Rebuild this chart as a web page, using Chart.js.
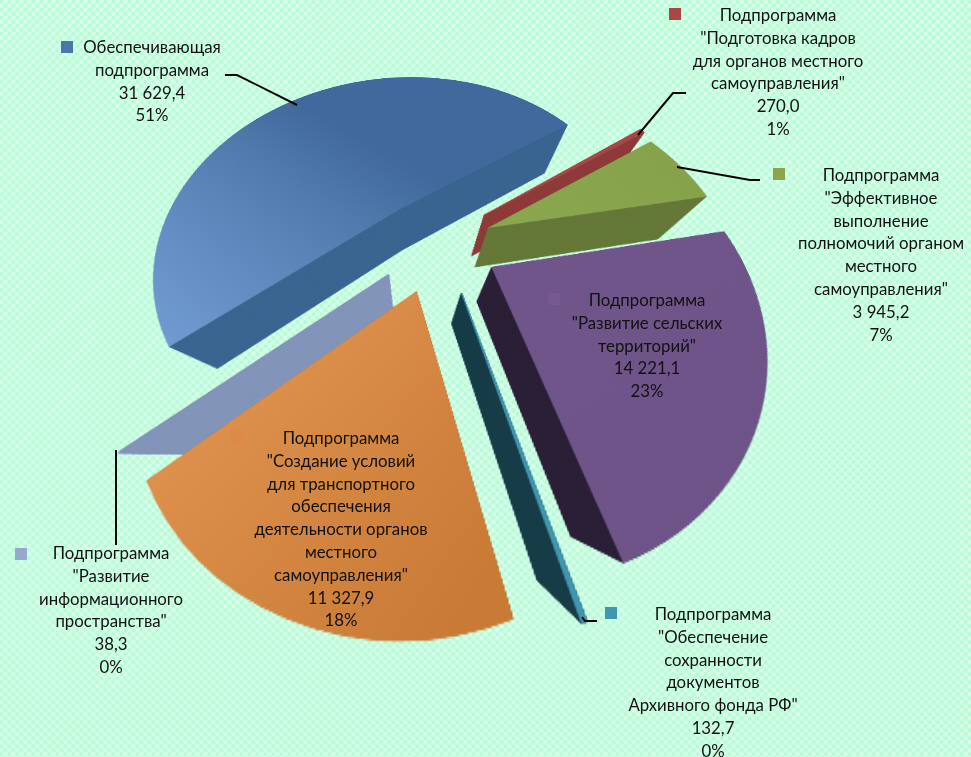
<!DOCTYPE html>
<html>
<head>
<meta charset="utf-8">
<script src="https://cdn.jsdelivr.net/npm/chart.js@4"></script>
<style>
html,body{margin:0;padding:0;width:971px;height:757px;overflow:hidden}
body{position:relative;background-color:#a4fccd;
background-image:repeating-linear-gradient(45deg,rgba(255,255,255,.45) 0,rgba(255,255,255,0) 2.83px,rgba(255,255,255,.45) 5.66px),repeating-linear-gradient(-45deg,rgba(255,255,255,.45) 0,rgba(255,255,255,0) 2.83px,rgba(255,255,255,.45) 5.66px)}
#pie{position:absolute;left:-52px;top:-238px;transform-origin:500px 500px;transform:perspective(430px) rotateX(35deg)}
#lines{position:absolute;left:0;top:0}
.lab{position:absolute;transform:translate(-50%,-50%);white-space:nowrap;font:16.8px Lato,"Noto Sans",sans-serif;color:#111;line-height:23px}
.mark{position:absolute;width:12px;height:12px}
</style>
</head>
<body>
<canvas id="pie" width="1000" height="1000"></canvas>
<svg id="lines" width="971" height="757"></svg>
<script>
/* DATA */
const categories = [
  ['Обеспечивающая','подпрограмма'],
  ['Подпрограмма','"Подготовка кадров','для органов местного','самоуправления"'],
  ['Подпрограмма','"Эффективное','выполнение','полномочий органом','местного','самоуправления"'],
  ['Подпрограмма','"Развитие сельских','территорий"'],
  ['Подпрограмма','"Обеспечение','сохранности','документов','Архивного фонда РФ"'],
  ['Подпрограмма','"Создание условий','для транспортного','обеспечения','деятельности органов','местного','самоуправления"'],
  ['Подпрограмма','"Развитие','информационного','пространства"']
];
const values = [31629.4, 270.0, 3945.2, 14221.1, 132.7, 11327.9, 38.3];
const valueLabels = ['31 629,4','270,0','3 945,2','14 221,1','132,7','11 327,9','38,3'];
const percentLabels = ['51%','1%','7%','23%','0%','18%','0%'];

/* STYLE */
const topColors = [['#739ed4','#41699b'],['#a84744','#a84744'],['#8aa64e','#84a049'],['#6f5589','#6b5185'],['#4097b0','#4097b0'],['#eca05c','#c97b36'],['#8a9cc0','#8093b8']];
const wallColors = ['#3b6591','#8e3b3a','#66793a','#2c2138','#173d48','#b06a2c','#8395b9'];
const markColors = ['#4a76ab','#a84744','#8da34c','#75598f','#4097b0','#dd8a47','#98a7cc'];
const gradLines = [[240,640,440,380],[0,0,1,1],[500,400,800,300],[600,500,900,900],[0,0,1,1],[150,600,450,850],[200,600,500,400]];
// slice shift on the pie plane, px
const explode = [[-52,-71],[39,-62],[42,-44],[43,6],[13,36],[-30,34],[-58,15]];
const edgeWidth = [0,1,0,0,1,0,1.5];
const drawOrder = [0,6,1,2,3,4,5];
const nadir = [471,680];
const wallScale = 0.775, wallSteps = 200;

/* label layout: centre x, first line y, marker x,y */
const labelPos = [[152,46,61,41],[778,14,669,8],[881,174,773,168],[647,299,548,293],[713,613,605,607],[341,437,231,431],[111,552,15,548]];
const leaders = ['225,75 237,75 297,105','686,93 673,93 638,135','760,180 750,180 677,167','116,450 116,545','582,617 585,621 597,621'];

const ctx = document.getElementById('pie').getContext('2d');
const fills = topColors.map((c,i)=>{
  const g = ctx.createLinearGradient(...gradLines[i]);
  g.addColorStop(0,c[0]); g.addColorStop(1,c[1]);
  return g;
});

const extrude = {
  id:'extrude',
  beforeDatasetDraw(chart,args){
    const c = chart.ctx, arcs = args.meta.data;
    drawOrder.forEach(i=>{
      const arc = arcs[i], o = arc.options, face = o.backgroundColor;
      o.backgroundColor = wallColors[i];
      o.borderColor = wallColors[i];
      o.borderWidth = edgeWidth[i]; // thin slices fade out near the apex without this
      for(let s=0;s<wallSteps;s++){
        const k = wallScale+(1-wallScale)*s/wallSteps;
        c.save();
        c.translate(nadir[0],nadir[1]); c.scale(k,k); c.translate(-nadir[0],-nadir[1]);
        c.translate(explode[i][0],explode[i][1]);
        arc.draw(c);
        c.restore();
      }
      o.backgroundColor = face;
      o.borderColor = topColors[i][1];
      c.save();
      c.translate(explode[i][0],explode[i][1]);
      arc.draw(c);
      c.restore();
    });
    return false;
  }
};

new Chart(ctx,{
  type:'pie',
  data:{labels:categories.map(c=>c[0]),datasets:[{data:values,backgroundColor:fills,borderWidth:0}]},
  options:{
    responsive:false,animation:false,rotation:230,radius:252,
    layout:{padding:0},
    plugins:{legend:{display:false},tooltip:{enabled:false}}
  },
  plugins:[extrude]
});

/* labels */
categories.forEach((lines,i)=>{
  const p = labelPos[i];
  lines.concat(valueLabels[i],percentLabels[i]).forEach((t,n)=>{
    const d = document.createElement('div');
    d.className='lab'; d.textContent=t;
    d.style.left=p[0]+'px'; d.style.top=(p[1]+n*22.8)+'px';
    document.body.appendChild(d);
  });
  const m = document.createElement('div');
  m.className='mark'; m.style.background=markColors[i];
  m.style.left=p[2]+'px'; m.style.top=p[3]+'px';
  document.body.appendChild(m);
});
const svg = document.getElementById('lines');
leaders.forEach(pts=>{
  const l = document.createElementNS('http://www.w3.org/2000/svg','polyline');
  l.setAttribute('points',pts); l.setAttribute('fill','none');
  l.setAttribute('stroke','#000'); l.setAttribute('stroke-width','2');
  svg.appendChild(l);
});
</script>
</body>
</html>
